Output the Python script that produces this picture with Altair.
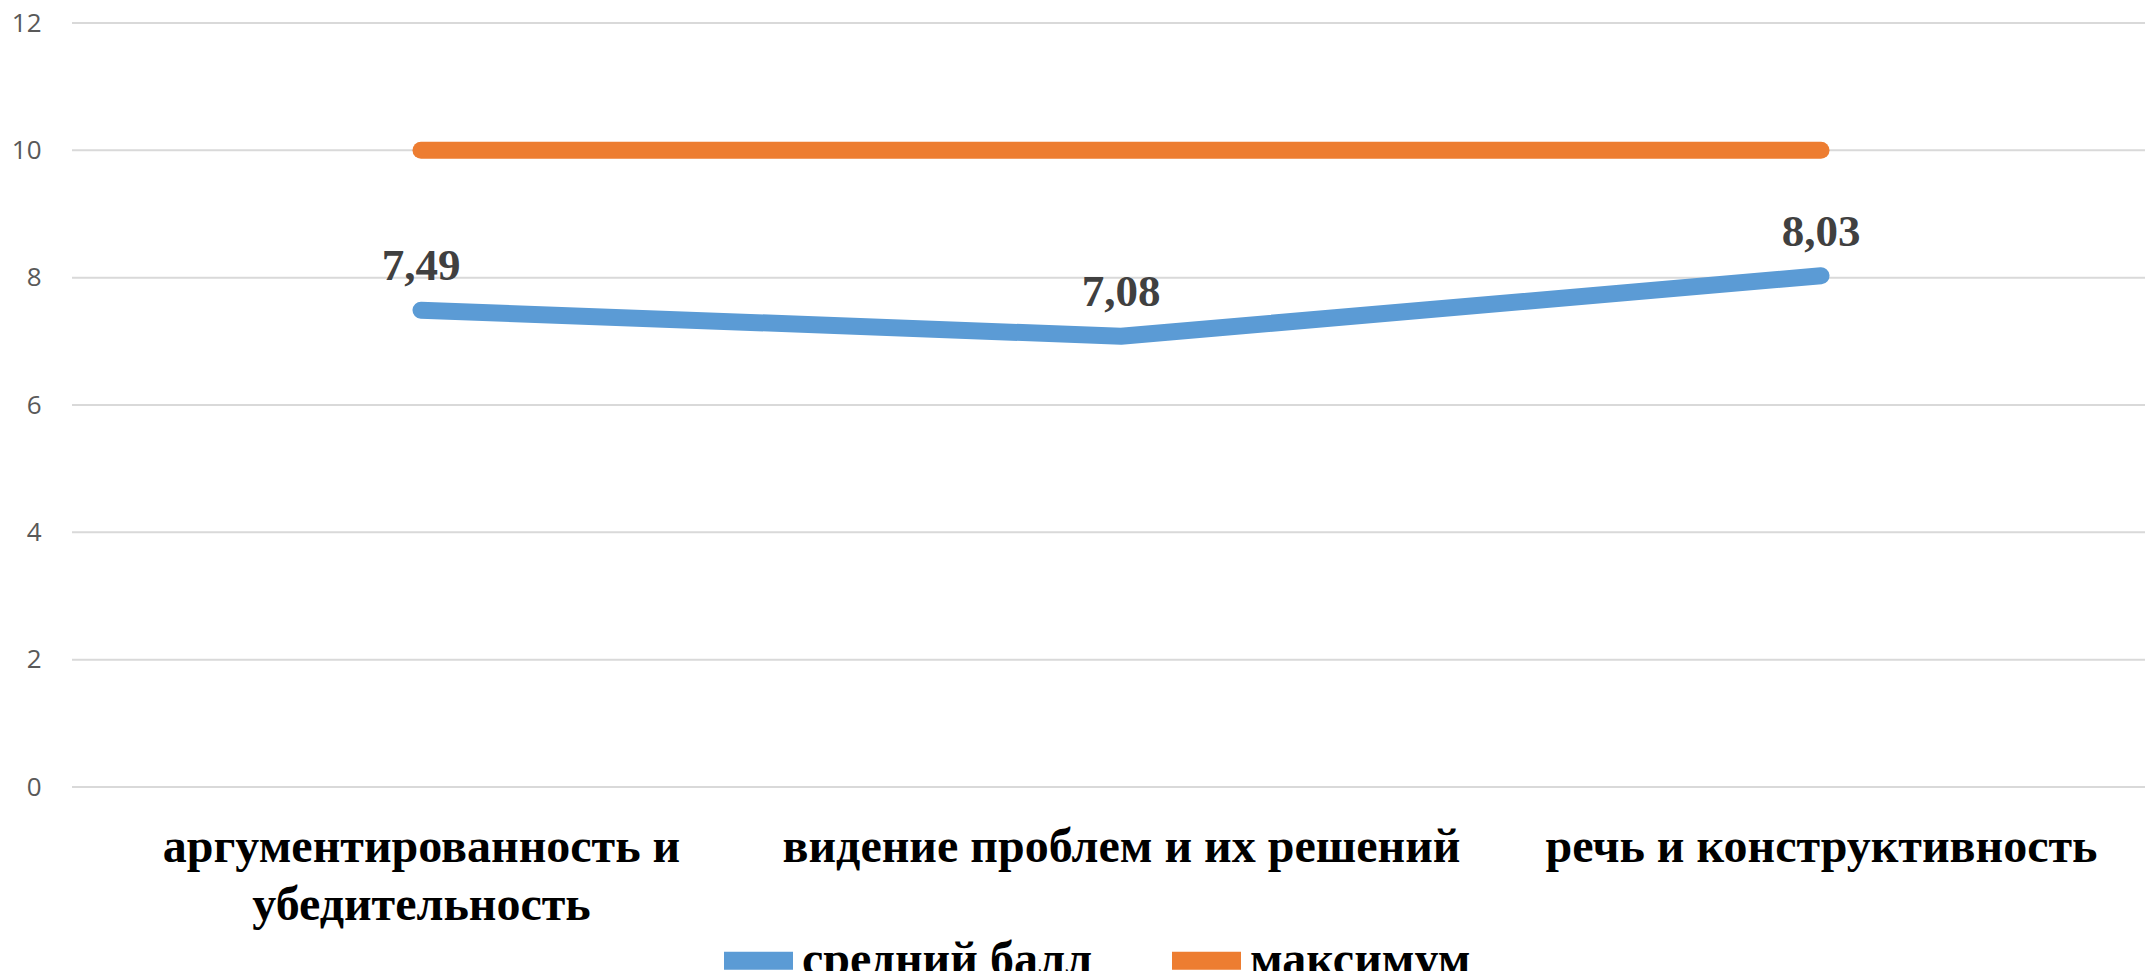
import altair as alt
import pandas as pd

categories = [
    "аргументированность и убедительность",
    "видение проблем и их решений",
    "речь и конструктивность",
]
avg_scores = [7.49, 7.08, 8.03]
max_scores = [10, 10, 10]
series_names = ["средний балл", "максимум"]
series_colors = ["#5B9BD5", "#ED7D31"]
y_ticks = [0, 2, 4, 6, 8, 10, 12]

rows = []
for c, v in zip(categories, avg_scores):
    rows.append({"category": c, "series": series_names[0], "value": v})
for c, v in zip(categories, max_scores):
    rows.append({"category": c, "series": series_names[1], "value": v})
df = pd.DataFrame(rows)
grid_df = pd.DataFrame({"value": y_ticks})

SERIF = "Liberation Serif"
W = 2073
H = 764

label_expr = (
    "datum.label == 'аргументированность и убедительность' ? "
    "['аргументированность и', 'убедительность'] : datum.label"
)

y_scale = alt.Scale(domain=[0, 12], nice=False, zero=True)
y_axis = alt.Axis(
    title=None,
    values=y_ticks,
    format="d",
    domain=False,
    ticks=False,
    grid=False,
    labelFont="Open Sans",
    labelFontSize=26,
    labelColor="#595959",
    labelPadding=31,
)

grid = alt.Chart(grid_df).mark_rule(color="#D9D9D9", strokeWidth=2).encode(
    y=alt.Y("value:Q", scale=y_scale, axis=y_axis),
    x=alt.value(0),
    x2=alt.value(W),
)

x_enc = alt.X(
    "category:N",
    sort=categories,
    scale=alt.Scale(type="point", range=[349, 1749], padding=0),
    axis=alt.Axis(
        title=None,
        domain=False,
        ticks=False,
        grid=False,
        labelAngle=0,
        labelFont=SERIF,
        labelFontSize=48,
        labelFontWeight="bold",
        labelColor="#000000",
        labelLimit=1500,
        labelBaseline="alphabetic",
        labelPadding=74,
        labelLineHeight=58,
        labelExpr=label_expr,
    ),
)

lines = alt.Chart(df).mark_line(strokeWidth=17, strokeCap="round", strokeJoin="round").encode(
    x=x_enc,
    y=alt.Y("value:Q", scale=y_scale, axis=y_axis),
    color=alt.Color(
        "series:N",
        scale=alt.Scale(domain=series_names, range=series_colors),
        sort=series_names,
        legend=alt.Legend(
            title=None,
            orient="none",
            direction="horizontal",
            legendX=643,
            legendY=894,
            symbolType="stroke",
            symbolSize=4761,
            symbolStrokeWidth=18,
            labelFont=SERIF,
            labelFontSize=48,
            labelFontWeight="bold",
            labelColor="#000000",
            labelOffset=0,
            columnPadding=43,
            labelLimit=600,
        ),
    ),
    detail="series:N",
)

labels = alt.Chart(df).transform_filter(
    alt.datum.series == series_names[0]
).transform_calculate(
    txt="replace(format(datum.value, '.2f'), '.', ',')"
).mark_text(
    font=SERIF,
    fontSize=45,
    fontWeight="bold",
    color="#404040",
    align="center",
    baseline="alphabetic",
    dy=-30,
).encode(
    x=alt.X("category:N", sort=categories),
    y=alt.Y("value:Q", scale=y_scale, axis=y_axis),
    text="txt:N",
)

chart = alt.layer(grid, lines, labels).properties(
    width=W,
    height=H,
    autosize=alt.AutoSizeParams(type="none"),
    padding={"left": 64, "top": 15, "right": 0, "bottom": 184},
).configure_view(stroke=None)

chart.save("out.html", embed_options={"renderer": "svg", "actions": False})
